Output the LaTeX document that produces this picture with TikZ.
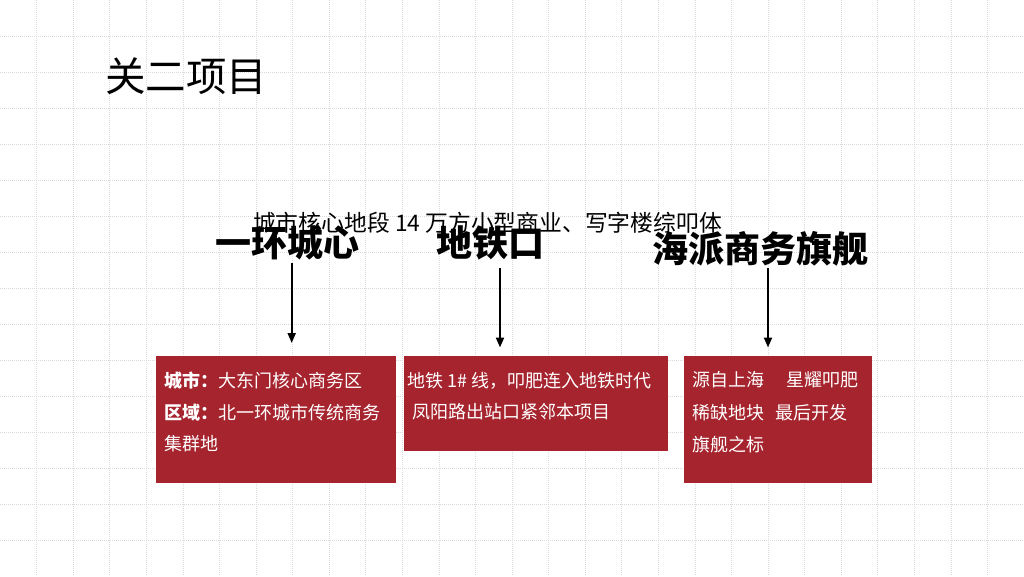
\documentclass[tikz,border=0pt]{standalone}
\usepackage{fontspec}
\setmainfont{Noto Sans CJK SC}
\usetikzlibrary{arrows.meta}
\definecolor{boxred}{RGB}{166,36,46}
\definecolor{gridc}{RGB}{218,218,218}
\tikzset{
  gridline/.style={draw=gridc, line width=0.7pt, dash pattern=on 1pt off 1pt},
  redbox/.style={fill=boxred, draw=none, inner sep=0pt, anchor=north west},
  boxtext/.style={anchor=west, inner sep=0pt, text=white, font=\fontsize{18}{20}\selectfont},
  heading/.style={inner sep=0pt, font=\fontsize{36}{40}\selectfont\bfseries},
  arr/.style={line width=2pt, -{Triangle[length=10pt,width=8pt]}}
}
\begin{document}
\begin{tikzpicture}[x=1pt,y=-1pt]
\useasboundingbox[fill=white] (0,0) rectangle (1024,576);
\foreach \i in {1,...,27} \draw[gridline] ({\i*36.571},0) -- ({\i*36.571},576);
\foreach \j in {1,...,15} \draw[gridline] (0,{\j*36}) -- (1024,{\j*36});

\node[anchor=west, inner sep=0pt, font=\fontsize{40.5}{44}\selectfont] (title) at (105,76) {关二项目};

\node[inner sep=0pt, font=\fontsize{22.8}{26}\selectfont] (sub) at (487.5,223) {城市核心地段 14 万方小型商业、写字楼综叩体};

\node[heading] (h1) at (287,243) {一环城心};
\node[heading] (h2) at (490,243) {地铁口};
\node[heading] (h3) at (760,249) {海派商务旗舰};

\node[redbox, minimum width=240pt, minimum height=127pt] (b1) at (156,356) {};
\node[redbox, minimum width=264pt, minimum height=95pt] (b2) at (404,356) {};
\node[redbox, minimum width=188pt, minimum height=127pt] (b3) at (684,356) {};

\node[boxtext] (t11) at (164,381) {\textbf{城市：}大东门核心商务区};
\node[boxtext] (t12) at (164,413) {\textbf{区域：}北一环城市传统商务};
\node[boxtext] (t13) at (164,444) {集群地};

\node[boxtext] (t21) at (407,381) {地铁 1\# 线，叩肥连入地铁时代};
\node[boxtext] (t22) at (412,412) {凤阳路出站口紧邻本项目};

\node[boxtext] (t31) at (692.5,380) {源自上海};
\node[boxtext] (t31b) at (786,380) {星耀叩肥};
\node[boxtext] (t32) at (692.5,413) {稀缺地块};
\node[boxtext] (t32b) at (775,413) {最后开发};
\node[boxtext] (t33) at (692.5,445) {旗舰之标};

\coordinate (a1s) at (291.7,263);
\coordinate (a1e) at (291.7,343);
\coordinate (a2s) at (500,268);
\coordinate (a2e) at (500,347.5);
\coordinate (a3s) at (768,268);
\coordinate (a3e) at (768,347.5);
\draw[arr] (a1s) -- (a1e);
\draw[arr] (a2s) -- (a2e);
\draw[arr] (a3s) -- (a3e);
\end{tikzpicture}
\end{document}
